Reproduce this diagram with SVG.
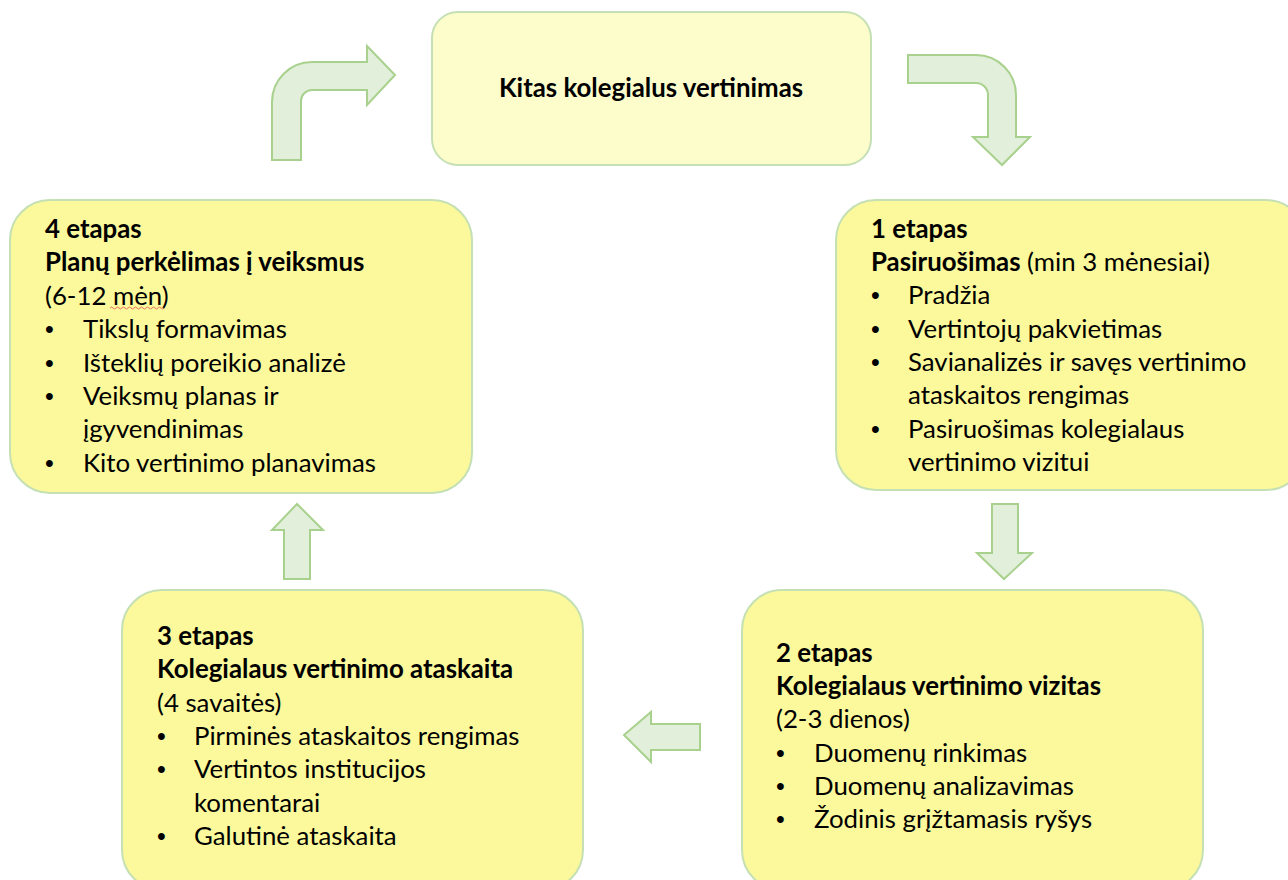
<svg xmlns="http://www.w3.org/2000/svg" width="1288" height="880" viewBox="0 0 1288 880">
<style>
.box{fill:#FBF99B;stroke:#C5E0B4;stroke-width:2}
.top{fill:#FDFDCB;stroke:#C5E0B4;stroke-width:2}
.arr{fill:#E2EFDA;stroke:#A9D18E;stroke-width:2;stroke-linejoin:miter}
text{font-family:Lato,"Open Sans","Liberation Sans",sans-serif;font-size:25.8px;fill:#000}
.b{font-weight:bold}
.bl{font-family:"Liberation Sans",sans-serif;font-size:25px}
</style>
<rect width="1288" height="880" fill="#FFFFFF"/>
<g id="connectors">
<path class="arr" d="M272,160 L272,102 A40,40 0 0 1 312,62 L367,62 L367,46 L395,75 L367,105 L367,90 L312,90 A11,11 0 0 0 301,101 L301,160 Z"/>
<path class="arr" d="M908,55 L976,55 A40,40 0 0 1 1016,95 L1016,137 L1030,137 L1002,165 L973,137 L988,137 L988,95 A12,12 0 0 0 976,83 L908,83 Z"/>
<path class="arr" d="M992,504 L1018,504 L1018,553 L1032,553 L1004,579 L977,553 L992,553 Z"/>
<path class="arr" d="M700,724 L700,750 L651,750 L651,762 L624,735 L651,712 L651,724 Z"/>
<path class="arr" d="M284,579 L284,530 L272,530 L297,504 L323,530 L310,530 L310,579 Z"/>
</g>
<g id="node-top">
<rect class="top" x="432" y="12" width="439" height="153" rx="26"/>
<text class="b" x="651" y="97" text-anchor="middle">Kitas kolegialus vertinimas</text>
</g>
<g id="node-4">
<rect class="box" x="10" y="200" width="462" height="293" rx="40"/>
<text class="b" x="45" y="238">4 etapas</text>
<text class="b" x="45" y="271">Planų perkėlimas į veiksmus</text>
<text x="45" y="305">(6-12 mėn)</text>
<path d="M110,308 q1.5,-2 3,0 t3,0 t3,0 t3,0 t3,0 t3,0 t3,0 t3,0 t3,0 t3,0 t3,0 t3,0 t3,0 t3,0 t3,0 t3,0 t3,0 t3,0" fill="none" stroke="#E05050" stroke-width="0.8"/>
<text class="bl" x="45" y="338">•</text><text x="83" y="338">Tikslų formavimas</text>
<text class="bl" x="45" y="372">•</text><text x="83" y="372">Išteklių poreikio analizė</text>
<text class="bl" x="45" y="405">•</text><text x="83" y="405">Veiksmų planas ir</text>
<text x="83" y="438">įgyvendinimas</text>
<text class="bl" x="45" y="472">•</text><text x="83" y="472">Kito vertinimo planavimas</text>
</g>
<g id="node-1">
<rect class="box" x="836" y="200" width="470" height="290" rx="40"/>
<text class="b" x="871" y="238">1 etapas</text>
<text x="871" y="271"><tspan class="b">Pasiruošimas</tspan> (min 3 mėnesiai)</text>
<text class="bl" x="871" y="304">•</text><text x="908" y="304">Pradžia</text>
<text class="bl" x="871" y="338">•</text><text x="908" y="338">Vertintojų pakvietimas</text>
<text class="bl" x="871" y="371">•</text><text x="908" y="371">Savianalizės ir savęs vertinimo</text>
<text x="908" y="404">ataskaitos rengimas</text>
<text class="bl" x="871" y="438">•</text><text x="908" y="438">Pasiruošimas kolegialaus</text>
<text x="908" y="471">vertinimo vizitui</text>
</g>
<g id="node-2">
<rect class="box" x="742" y="590" width="461" height="300" rx="40"/>
<text class="b" x="776" y="662">2 etapas</text>
<text class="b" x="776" y="695">Kolegialaus vertinimo vizitas</text>
<text x="776" y="728">(2-3 dienos)</text>
<text class="bl" x="776" y="762">•</text><text x="814" y="762">Duomenų rinkimas</text>
<text class="bl" x="776" y="795">•</text><text x="814" y="795">Duomenų analizavimas</text>
<text class="bl" x="776" y="828">•</text><text x="814" y="828">Žodinis grįžtamasis ryšys</text>
</g>
<g id="node-3">
<rect class="box" x="122" y="590" width="461" height="300" rx="40"/>
<text class="b" x="157" y="645">3 etapas</text>
<text class="b" x="157" y="678">Kolegialaus vertinimo ataskaita</text>
<text x="157" y="712">(4 savaitės)</text>
<text class="bl" x="157" y="745">•</text><text x="194" y="745">Pirminės ataskaitos rengimas</text>
<text class="bl" x="157" y="778">•</text><text x="194" y="778">Vertintos institucijos</text>
<text x="194" y="812">komentarai</text>
<text class="bl" x="157" y="845">•</text><text x="194" y="845">Galutinė ataskaita</text>
</g>
</svg>
